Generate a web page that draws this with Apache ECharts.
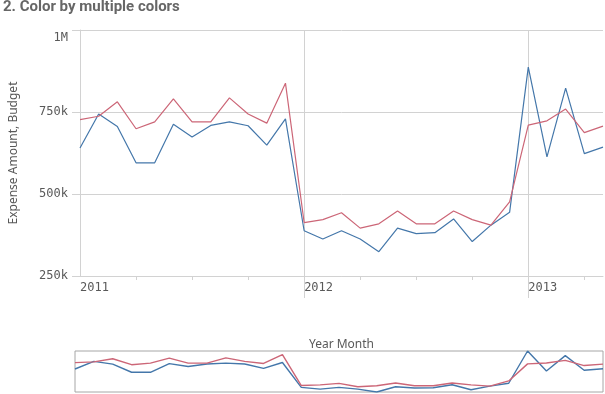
<!DOCTYPE html>
<html>
<head>
<meta charset="utf-8">
<script src="https://cdn.jsdelivr.net/npm/echarts@6/dist/echarts.min.js"></script>
<style>html,body{margin:0;padding:0;background:#fff}#c{width:605px;height:394px}</style>
</head>
<body>
<div id="c"></div>
<script>
const months = ['2011-01','2011-02','2011-03','2011-04','2011-05','2011-06','2011-07','2011-08','2011-09','2011-10','2011-11','2011-12',
  '2012-01','2012-02','2012-03','2012-04','2012-05','2012-06','2012-07','2012-08','2012-09','2012-10','2012-11','2012-12',
  '2013-01','2013-02','2013-03','2013-04','2013-05'];
const expenseAmount = [640000,744000,706000,595000,595000,713000,674000,709000,720000,708000,649000,729000,
  388000,363000,388000,363000,324000,396000,379000,382000,424000,355000,405000,444000,
  887000,613000,823000,623000,643000];
const budget = [727000,737000,781000,699000,720000,790000,720000,720000,793000,744000,716000,838000,
  413000,422000,443000,396000,409000,448000,409000,409000,448000,422000,405000,476000,
  710000,723000,759000,687000,707000];
const yTickValues = [250000,500000,750000,1000000];
const yTickLabels = ['250k','500k','750k','1M'];

const BLUE = '#4477aa', RED = '#cc6677', GRID = '#d2d2d2', TXT = '#595959';
const chart = echarts.init(document.getElementById('c'), null, {renderer:'canvas'});
const isYear = i => i % 12 === 0;
chart.setOption({
  animation:false,
  title:{text:'2. Color by multiple colors', left:3, top:0, padding:0,
    textStyle:{fontFamily:'Roboto', fontWeight:'bold', fontSize:15, color:'#666'}},
  grid:[
    {left:75, right:2, top:30, height:246},
    {left:75, right:2, top:351, height:41, show:true, borderColor:'#a6a6a6', borderWidth:1, backgroundColor:'transparent'}
  ],
  xAxis:[
    {type:'category', gridIndex:0, data:months, boundaryGap:false,
      name:'Year Month', nameLocation:'middle', nameGap:63,
      nameTextStyle:{fontFamily:'Noto Sans', fontSize:12, color:TXT},
      axisLine:{lineStyle:{color:GRID}},
      axisTick:{interval:(i)=> i%3===0 && !isYear(i), length:4, lineStyle:{color:GRID}},
      axisLabel:{interval:(i)=>isYear(i), formatter:(v)=>v.slice(0,4), align:'left', padding:0,
        margin:6, fontFamily:'DejaVu Sans Mono', fontSize:12, color:TXT},
      splitLine:{show:true, interval:(i)=>isYear(i) && i>0, lineStyle:{color:GRID}}
    },
    {type:'category', gridIndex:0, data:months, boundaryGap:false, position:'bottom',
      axisLine:{show:false},
      axisTick:{show:true, interval:(i)=>isYear(i) && i>0, length:22, lineStyle:{color:GRID}},
      axisLabel:{show:false}, splitLine:{show:false}
    },
    {type:'category', gridIndex:1, data:months, boundaryGap:false, show:false}
  ],
  yAxis:[
    {type:'value', gridIndex:0, min:250000, max:1000000, interval:250000,
      name:'Expense Amount, Budget', nameLocation:'middle', nameGap:60,
      nameTextStyle:{fontFamily:'Noto Sans', fontSize:12, color:TXT},
      axisLine:{show:true, lineStyle:{color:GRID}},
      axisTick:{show:true, length:8, lineStyle:{color:GRID}},
      axisLabel:{margin:12, fontFamily:'DejaVu Sans Mono', fontSize:12, color:TXT,
        formatter:(v)=>{const i=yTickValues.indexOf(v); const s=i>=0?yTickLabels[i]:''; return v===1000000?'{t|'+s+'}':s;},
        rich:{t:{fontFamily:'DejaVu Sans Mono', fontSize:12, color:TXT, padding:[16,0,0,0]}}},
      splitLine:{lineStyle:{color:GRID}}
    },
    {type:'value', gridIndex:1, min:'dataMin', max:'dataMax', show:false, splitLine:{show:false}}
  ],
  series:[
    {name:'Expense Amount', type:'line', xAxisIndex:0, yAxisIndex:0, data:expenseAmount, showSymbol:false, symbol:'none',
      lineStyle:{color:BLUE, width:1.2}, itemStyle:{color:BLUE}},
    {name:'Budget', type:'line', xAxisIndex:0, yAxisIndex:0, data:budget, showSymbol:false, symbol:'none',
      lineStyle:{color:RED, width:1.2}, itemStyle:{color:RED}},
    {name:'Expense Amount', type:'line', xAxisIndex:2, yAxisIndex:1, data:expenseAmount, symbol:'none',
      lineStyle:{color:BLUE, width:1.4}},
    {name:'Budget', type:'line', xAxisIndex:2, yAxisIndex:1, data:budget, symbol:'none',
      lineStyle:{color:RED, width:1.4}}
  ]
});
</script>
</body>
</html>
